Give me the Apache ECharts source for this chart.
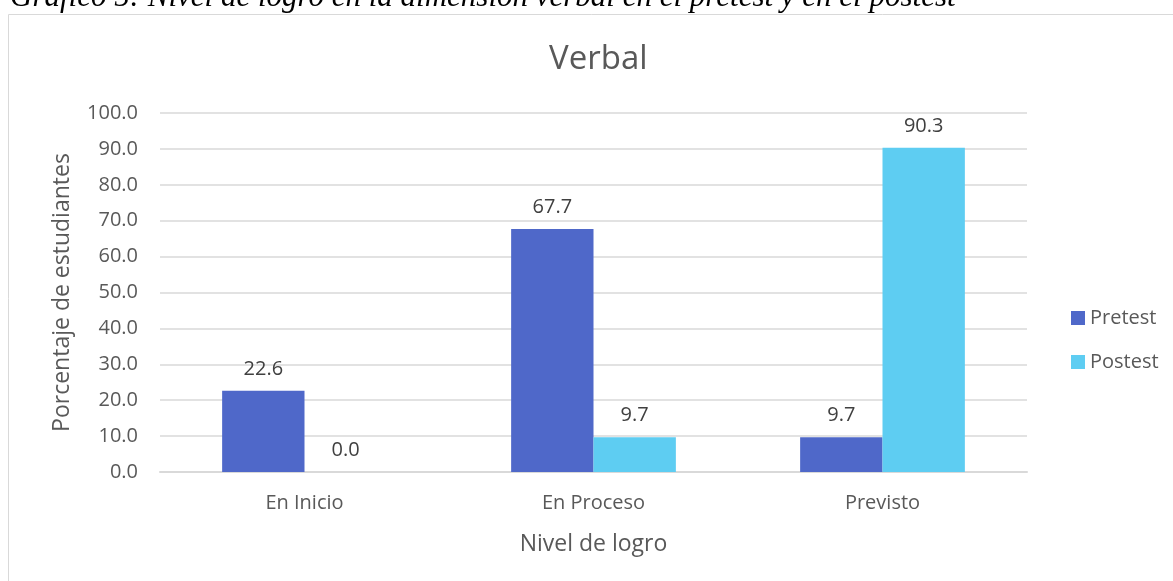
<!DOCTYPE html>
<html>
<head>
<meta charset="utf-8">
<script src="https://cdn.jsdelivr.net/npm/echarts@6/dist/echarts.min.js"></script>
<style>
  html, body { margin: 0; padding: 0; background: #fff; }
  #chart { width: 1173px; height: 581px; }
</style>
</head>
<body>
<div id="chart"></div>
<script>
const categories = ['En Inicio', 'En Proceso', 'Previsto']
const pretest = [22.6, 67.7, 9.7]
const postest = [0.0, 9.7, 90.3]
const yTicks = { min: 0, max: 100, interval: 10 }

const chart = echarts.init(document.getElementById('chart'))
const font = '"Open Sans", "Noto Sans", sans-serif'

// etiqueta encima de cada barra
const barLabel = {
  show: true,
  position: 'top',
  distance: 12,
  color: '#404040',
  fontSize: 20,
  fontFamily: font,
  formatter: (p) => p.value.toFixed(1)
}

chart.setOption({
  animation: false,
  textStyle: { fontFamily: font },
  graphic: [
    {
      type: 'rect',
      shape: { x: 8.5, y: 14.5, width: 1200, height: 600 },
      style: { fill: 'none', stroke: '#d9d9d9', lineWidth: 1 }
    },
    {
      type: 'text',
      x: 10,
      y: 13,
      style: {
        text: 'Gráfico 5: Nivel de logro en la dimensión verbal en el pretest y en el postest',
        font: 'italic 31px "Liberation Serif", serif',
        fill: '#000',
        verticalAlign: 'bottom'
      }
    }
  ],
  title: {
    text: 'Verbal',
    left: 544,
    top: 38,
    textStyle: { fontSize: 33, fontWeight: 'normal', color: '#595959', fontFamily: font }
  },
  legend: {
    orient: 'vertical',
    left: 1066,
    top: 303,
    icon: 'rect',
    itemWidth: 14,
    itemHeight: 14,
    itemGap: 24,
    textStyle: { fontSize: 20, color: '#595959', fontFamily: font },
    data: ['Pretest', 'Postest']
  },
  grid: { left: 160, right: 146, top: 113, bottom: 109 },
  xAxis: {
    type: 'category',
    data: categories,
    axisLine: { lineStyle: { color: '#d9d9d9', width: 2 } },
    axisTick: { show: false },
    axisLabel: { fontSize: 20, color: '#595959', margin: 21 },
    name: 'Nivel de logro',
    nameLocation: 'middle',
    nameGap: 61,
    nameTextStyle: { fontSize: 23, color: '#595959' }
  },
  yAxis: {
    type: 'value',
    min: yTicks.min,
    max: yTicks.max,
    interval: yTicks.interval,
    axisLabel: { fontSize: 20, color: '#595959', margin: 22, formatter: (v) => v.toFixed(1) },
    splitLine: { lineStyle: { color: '#d9d9d9', width: 1.5 } },
    axisLine: { show: false },
    axisTick: { show: false },
    name: 'Porcentaje de estudiantes',
    nameLocation: 'middle',
    nameGap: 86,
    nameTextStyle: { fontSize: 23, color: '#595959' }
  },
  series: [
    {
      name: 'Pretest',
      type: 'bar',
      data: pretest,
      barGap: '0%',
      barCategoryGap: '43%',
      itemStyle: { color: '#4f68c9' },
      label: barLabel
    },
    {
      name: 'Postest',
      type: 'bar',
      data: postest,
      itemStyle: { color: '#5ecdf2' },
      label: barLabel
    }
  ]
})
</script>
</body>
</html>
